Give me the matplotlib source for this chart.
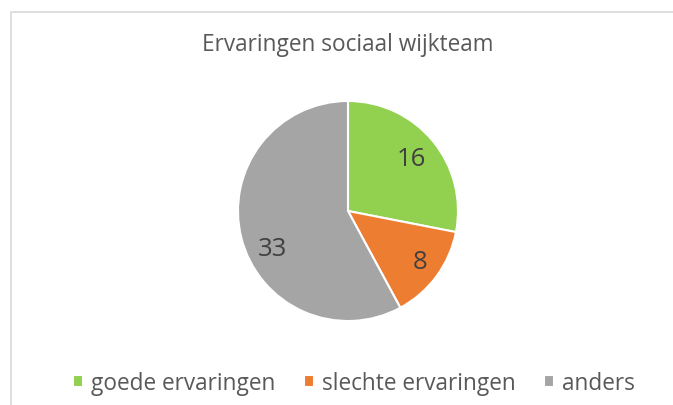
import numpy as np
import matplotlib.pyplot as plt
from matplotlib.patches import Rectangle

plt.rcParams['font.family'] = ['Open Sans', 'DejaVu Sans']

# data
categories = ['goede ervaringen', 'slechte ervaringen', 'anders']
values = [16, 8, 33]
colors = ['#92D050', '#ED7D31', '#A5A5A5']
title = 'Ervaringen sociaal wijkteam'

W, H = 673, 406
fig = plt.figure(figsize=(W / 100, H / 100), dpi=100)

# chart area border (only top and left visible in the crop)
fig.patches.append(Rectangle((11 / W, -0.1), 1.2, 1 - 13 / H + 0.1,
                             transform=fig.transFigure, fill=False,
                             edgecolor='#D9D9D9', linewidth=1.2))

# pie axes: center (348, 212), radius 110
cx, cy, r = 348, 212, 110
ax = fig.add_axes([(cx - r) / W, 1 - (cy + r) / H, 2 * r / W, 2 * r / H])
wedges, _ = ax.pie(values, colors=colors, startangle=90, counterclock=False,
                   wedgeprops=dict(edgecolor='white', linewidth=1.5))
ax.set_xlim(-1, 1)
ax.set_ylim(-1, 1)
ax.set_aspect('equal')

# data labels (Excel best-fit positions approximated)
label_dist = [0.75, 0.80, 0.77]
label_shift = [0, 1, 12]   # degrees
for w, v, d, s in zip(wedges, values, label_dist, label_shift):
    ang = np.deg2rad((w.theta1 + w.theta2) / 2 + s)
    ax.text(d * np.cos(ang), d * np.sin(ang), str(v), ha='center', va='center',
            fontsize=18.5, color='#404040')

fig.text(cx / W, 1 - 45 / H, title, ha='center', va='center',
         fontsize=16.3, color='#595959')

leg = fig.legend(wedges, categories, loc='center', bbox_to_anchor=(354 / W, 1 - 384 / H),
                 ncol=3, frameon=False, fontsize=16.3, handlelength=0.45, handleheight=0.45,
                 handletextpad=0.35, columnspacing=1.25, labelcolor='#595959')

fig.savefig('out.png', dpi=100)
